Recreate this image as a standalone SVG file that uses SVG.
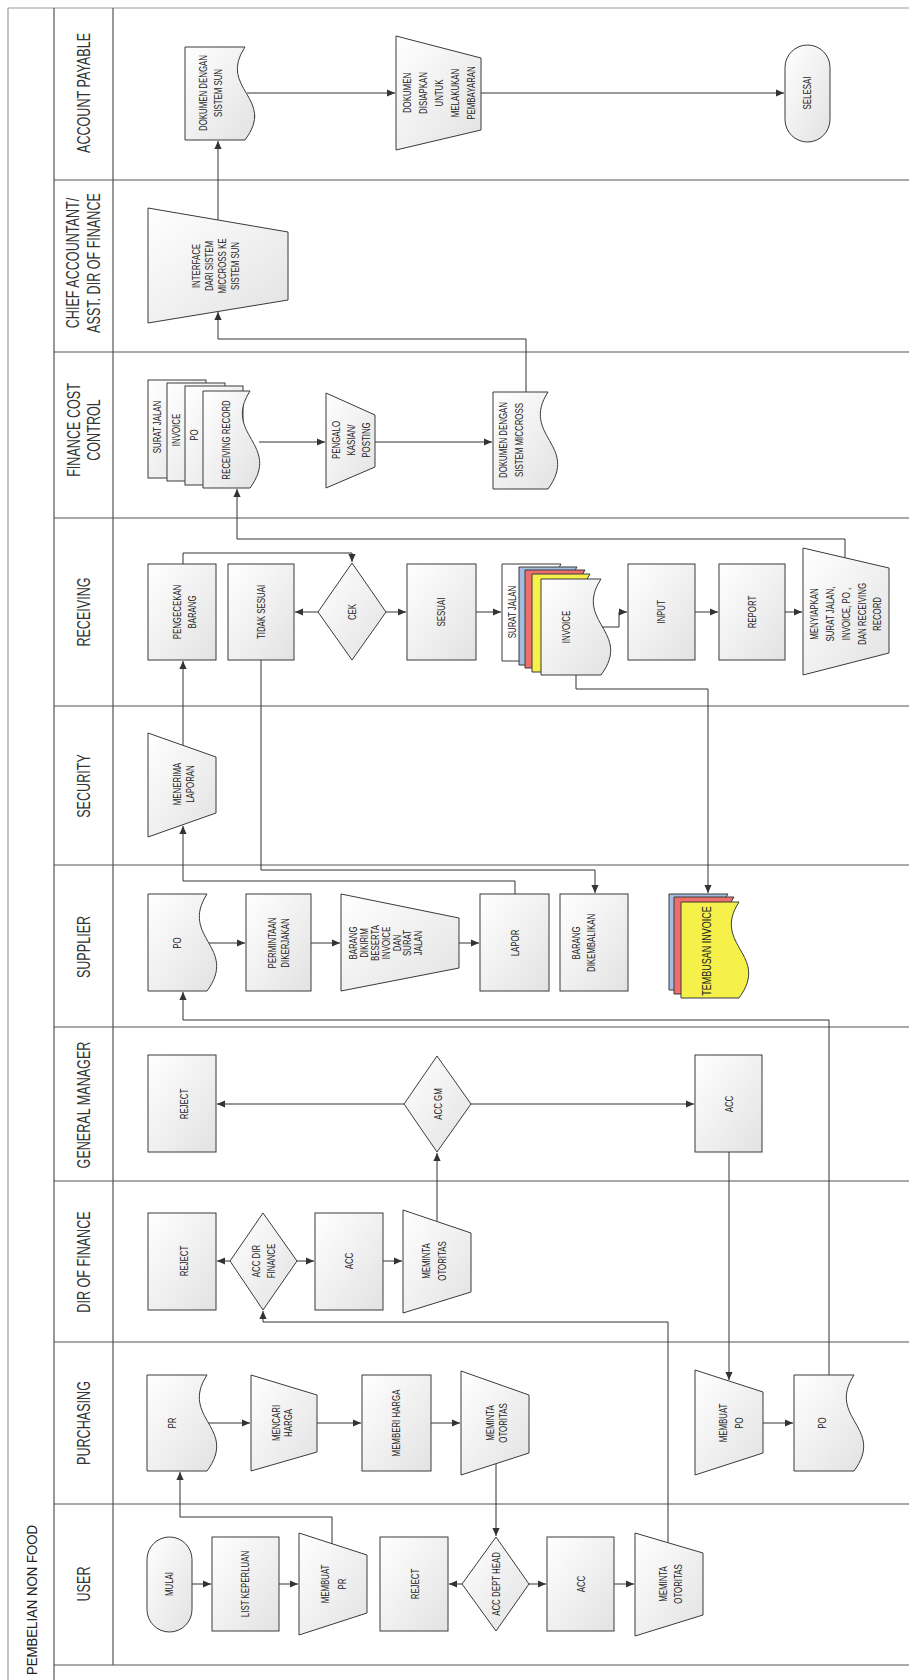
<svg xmlns="http://www.w3.org/2000/svg" width="909" height="1680" viewBox="0 0 909 1680">
<defs>
<linearGradient id="g" x1="0" y1="0" x2="1" y2="1">
<stop offset="0" stop-color="#ffffff"/>
<stop offset="1" stop-color="#e2e2e2"/>
</linearGradient>
<marker id="ah" viewBox="0 0 10 10" refX="10" refY="5" markerWidth="8" markerHeight="8" markerUnits="userSpaceOnUse" orient="auto">
<path d="M0,0.5 L10,5 L0,9.5 z" fill="#333"/>
</marker>
</defs>
<style>
.s{fill:url(#g);stroke:#3a3a3a;stroke-width:1}
.w{fill:#ffffff;stroke:#3a3a3a;stroke-width:1}
.bl{fill:#a3bde0;stroke:#3a3a3a;stroke-width:1}
.rd{fill:#ee6e6c;stroke:#3a3a3a;stroke-width:1}
.ye{fill:#f5f04a;stroke:#3a3a3a;stroke-width:1}
.ln{stroke:#555;stroke-width:1.2;fill:none}
.lt{stroke:#9a9a9a;stroke-width:1.2;fill:none}
.c{stroke:#333;stroke-width:1;fill:none;marker-end:url(#ah)}
text{font-family:"Liberation Sans",Arial,sans-serif;fill:#222}
.bx{font-size:10.5px;text-anchor:middle}
.hd{font-size:18px;text-anchor:middle;fill:#333}
.tt{font-size:15px;text-anchor:middle;fill:#222}
</style>
<rect x="0" y="0" width="909" height="1680" fill="#ffffff"/>

<g id="lanes">
<line class="lt" x1="8" y1="8" x2="909" y2="8"/>
<line class="lt" x1="8" y1="8" x2="8" y2="1680"/>
<line class="ln" x1="54" y1="8" x2="54" y2="1680"/>
<line class="ln" x1="113" y1="8" x2="113" y2="1665"/>
<line class="ln" x1="54" y1="180" x2="909" y2="180"/>
<line class="ln" x1="54" y1="352" x2="909" y2="352"/>
<line class="ln" x1="54" y1="518" x2="909" y2="518"/>
<line class="ln" x1="54" y1="706" x2="909" y2="706"/>
<line class="ln" x1="54" y1="865" x2="909" y2="865"/>
<line class="ln" x1="54" y1="1027" x2="909" y2="1027"/>
<line class="ln" x1="54" y1="1181" x2="909" y2="1181"/>
<line class="ln" x1="54" y1="1342" x2="909" y2="1342"/>
<line class="ln" x1="54" y1="1504" x2="909" y2="1504"/>
<line class="ln" x1="54" y1="1665" x2="909" y2="1665"/>
<text class="tt" transform="translate(37 1600) rotate(-90) scale(0.88 1)">PEMBELIAN NON FOOD</text>
<text class="hd" transform="translate(90 93) rotate(-90) scale(0.7 1)">ACCOUNT PAYABLE</text>
<text class="hd" transform="translate(79 263) rotate(-90) scale(0.7 1)">CHIEF ACCOUNTANT/</text>
<text class="hd" transform="translate(100 263) rotate(-90) scale(0.7 1)">ASST. DIR OF FINANCE</text>
<text class="hd" transform="translate(79.5 430) rotate(-90) scale(0.7 1)">FINANCE COST</text>
<text class="hd" transform="translate(100 430) rotate(-90) scale(0.7 1)">CONTROL</text>
<text class="hd" transform="translate(90 612) rotate(-90) scale(0.7 1)">RECEIVING</text>
<text class="hd" transform="translate(90 786) rotate(-90) scale(0.7 1)">SECURITY</text>
<text class="hd" transform="translate(90 947) rotate(-90) scale(0.7 1)">SUPPLIER</text>
<text class="hd" transform="translate(90 1105) rotate(-90) scale(0.7 1)">GENERAL MANAGER</text>
<text class="hd" transform="translate(90 1262) rotate(-90) scale(0.7 1)">DIR OF FINANCE</text>
<text class="hd" transform="translate(90 1423) rotate(-90) scale(0.7 1)">PURCHASING</text>
<text class="hd" transform="translate(90 1584) rotate(-90) scale(0.7 1)">USER</text>
</g>

<g id="connectors">
<path class="c" d="M218 220 V141"/>
<path class="c" d="M247 93 H395"/>
<path class="c" d="M481 93 H784"/>
<path class="c" d="M526 392 V339 H218 V312"/>
<path class="c" d="M259 442 H325"/>
<path class="c" d="M375 442 H492"/>
<path class="c" d="M845 558 V539 H237 V489"/>
<path class="c" d="M183 564 V553 H352 V562"/>
<path class="c" d="M318 612 H295"/>
<path class="c" d="M386 612 H406"/>
<path class="c" d="M476 612 H501"/>
<path class="c" d="M601 627 H619 V612 H627"/>
<path class="c" d="M695 612 H718"/>
<path class="c" d="M785 612 H802"/>
<path class="c" d="M183 745 V661"/>
<path class="c" d="M261 660 V870 H595 V893"/>
<path class="c" d="M576 675 V689 H708 V893"/>
<path class="c" d="M515 894 V881 H183 V826"/>
<path class="c" d="M207 943 H245"/>
<path class="c" d="M311 943 H340"/>
<path class="c" d="M459 943 H479"/>
<path class="c" d="M829 1375 V1020 H183 V992"/>
<path class="c" d="M404 1104 H217"/>
<path class="c" d="M471 1104 H694"/>
<path class="c" d="M729 1152 V1380"/>
<path class="c" d="M437 1221 V1153"/>
<path class="c" d="M230 1261 H217"/>
<path class="c" d="M297 1261 H314"/>
<path class="c" d="M383 1261 H402"/>
<path class="c" d="M668 1543 V1322 H263 V1311"/>
<path class="c" d="M207 1423 H250"/>
<path class="c" d="M317 1423 H361"/>
<path class="c" d="M431 1423 H460"/>
<path class="c" d="M496 1464 V1536"/>
<path class="c" d="M763 1423 H793"/>
<path class="c" d="M332 1544 V1517 H180 V1472"/>
<path class="c" d="M192 1584 H211"/>
<path class="c" d="M279 1584 H298"/>
<path class="c" d="M462 1584 H449"/>
<path class="c" d="M529 1584 H546"/>
<path class="c" d="M614 1584 H634"/>
</g>

<!-- ACCOUNT PAYABLE -->
<g id="dok-sun">
<path class="s" d="M185 47 H245 C217 88.85 277 98.15 245 140 H185 Z"/>
<g transform="translate(210.5 93) rotate(-90) scale(0.75 1)"><text class="bx" y="-3.7">DOKUMEN DENGAN</text><text class="bx" y="11.3">SISTEM SUN</text></g>
</g>
<g id="dok-disiapkan">
<polygon class="s" points="396,36 481,58 481,130 396,150"/>
<g transform="translate(439 93) rotate(-90) scale(0.75 1)"><text class="bx" y="-28.2">DOKUMEN</text><text class="bx" y="-12.2">DISIAPKAN</text><text class="bx" y="3.8">UNTUK</text><text class="bx" y="19.8">MELAKUKAN</text><text class="bx" y="35.8">PEMBAYARAN</text></g>
</g>
<g id="selesai">
<rect class="s" x="785" y="45" width="45" height="97" rx="22.5" ry="22.5"/>
<g transform="translate(807 93) rotate(-90) scale(0.75 1)"><text class="bx" y="3.8">SELESAI</text></g>
</g>

<!-- CHIEF ACCOUNTANT -->
<g id="interface">
<polygon class="s" points="148,208 288,232 288,300 148,323"/>
<g transform="translate(216 266) rotate(-90) scale(0.75 1)"><text class="bx" y="-15.7">INTERFACE</text><text class="bx" y="-2.7">DARI SISTEM</text><text class="bx" y="10.3">MICCROSS KE</text><text class="bx" y="23.3">SISTEM SUN</text></g>
</g>

<!-- FINANCE COST CONTROL -->
<g id="fcc-docs">
<rect class="s" x="148" y="380" width="58" height="98"/>
<rect class="s" x="167" y="383" width="58" height="98"/>
<rect class="s" x="185" y="386" width="58" height="99"/>
<path class="s" d="M203 391 H250 C222 434.65 282 444.35 250 488 H203 Z"/>
<g transform="translate(157 427) rotate(-90) scale(0.75 1)"><text class="bx" y="3.8">SURAT JALAN</text></g>
<g transform="translate(176 430) rotate(-90) scale(0.75 1)"><text class="bx" y="3.8">INVOICE</text></g>
<g transform="translate(194 435) rotate(-90) scale(0.75 1)"><text class="bx" y="3.8">PO</text></g>
<g transform="translate(226 440) rotate(-90) scale(0.75 1)"><text class="bx" y="3.8">RECEIVING RECORD</text></g>
</g>
<g id="pengalokasian">
<polygon class="s" points="326,393 375,415 375,467 326,488"/>
<g transform="translate(351 440) rotate(-90) scale(0.75 1)"><text class="bx" y="-11.2">PENGALO</text><text class="bx" y="3.8">KASIAN/</text><text class="bx" y="18.8">POSTING</text></g>
</g>
<g id="dok-miccross">
<path class="s" d="M493 392 H548 C520 435.65 580 445.35 548 489 H493 Z"/>
<g transform="translate(511 440) rotate(-90) scale(0.75 1)"><text class="bx" y="-4.2">DOKUMEN DENGAN</text><text class="bx" y="11.8">SISTEM MICCROSS</text></g>
</g>

<!-- RECEIVING -->
<g id="pengecekan">
<rect class="s" x="148" y="564" width="68" height="96"/>
<g transform="translate(184.5 612) rotate(-90) scale(0.75 1)"><text class="bx" y="-3.7">PENGECEKAN</text><text class="bx" y="11.3">BARANG</text></g>
</g>
<g id="tidak-sesuai">
<rect class="s" x="228" y="564" width="66" height="96"/>
<g transform="translate(261 612) rotate(-90) scale(0.75 1)"><text class="bx" y="3.8">TIDAK SESUAI</text></g>
</g>
<g id="cek">
<polygon class="s" points="352,563 386,612 352,660 318,612"/>
<g transform="translate(352 612) rotate(-90) scale(0.75 1)"><text class="bx" y="3.8">CEK</text></g>
</g>
<g id="sesuai">
<rect class="s" x="407" y="564" width="69" height="96"/>
<g transform="translate(441 612) rotate(-90) scale(0.75 1)"><text class="bx" y="3.8">SESUAI</text></g>
</g>
<g id="recv-docs">
<path class="w" d="M502 564 H561 C533 607.65 593 617.35 561 661 H502 Z"/>
<path class="bl" d="M519 567 H577 C549 611.1 609 620.9 577 665 H519 Z"/>
<path class="rd" d="M525 570 H585 C557 614.1 617 623.9 585 668 H525 Z"/>
<path class="ye" d="M532 574 H590 C562 618.1 622 627.9 590 672 H532 Z"/>
<path class="s" d="M541 579 H601 C573 622.2 633 631.8 601 675 H541 Z"/>
<g transform="translate(512 612) rotate(-90) scale(0.75 1)"><text class="bx" y="3.8">SURAT JALAN</text></g>
<g transform="translate(566 627) rotate(-90) scale(0.75 1)"><text class="bx" y="3.8">INVOICE</text></g>
</g>
<g id="input">
<rect class="s" x="628" y="564" width="67" height="96"/>
<g transform="translate(661 612) rotate(-90) scale(0.75 1)"><text class="bx" y="3.8">INPUT</text></g>
</g>
<g id="report">
<rect class="s" x="719" y="564" width="66" height="96"/>
<g transform="translate(752 612) rotate(-90) scale(0.75 1)"><text class="bx" y="3.8">REPORT</text></g>
</g>
<g id="menyiapkan">
<polygon class="s" points="803,548 889,568 889,653 803,675"/>
<g transform="translate(846 614) rotate(-90) scale(0.75 1)"><text class="bx" y="-27.7">MENYIAPKAN</text><text class="bx" y="-11.95">SURAT JALAN,</text><text class="bx" y="3.8">INVOICE, PO ,</text><text class="bx" y="19.55">DAN RECEIVING</text><text class="bx" y="35.3">RECORD</text></g>
</g>

<!-- SECURITY -->
<g id="menerima-laporan">
<polygon class="s" points="148,733 216,757 216,813 148,837"/>
<g transform="translate(183.5 784) rotate(-90) scale(0.75 1)"><text class="bx" y="-2.7">MENERIMA</text><text class="bx" y="10.3">LAPORAN</text></g>
</g>

<!-- SUPPLIER -->
<g id="po-supplier">
<path class="s" d="M148 894 H207 C179 937.65 239 947.35 207 991 H148 Z"/>
<g transform="translate(177 943) rotate(-90) scale(0.75 1)"><text class="bx" y="3.8">PO</text></g>
</g>
<g id="permintaan">
<rect class="s" x="246" y="894" width="65" height="97"/>
<g transform="translate(278.5 943) rotate(-90) scale(0.75 1)"><text class="bx" y="-2.7">PERMINTAAN</text><text class="bx" y="10.3">DIKERJAKAN</text></g>
</g>
<g id="barang-dikirim">
<polygon class="s" points="341,894 459,918 459,968 341,991"/>
<g transform="translate(386 943) rotate(-90) scale(0.75 1)"><text class="bx" y="-28.6">BARANG</text><text class="bx" y="-17.8">DIKIRIM</text><text class="bx" y="-7">BESERTA</text><text class="bx" y="3.8">INVOICE</text><text class="bx" y="14.6">DAN</text><text class="bx" y="25.4">SURAT</text><text class="bx" y="36.2">JALAN</text></g>
</g>
<g id="lapor">
<rect class="s" x="480" y="894" width="69" height="97"/>
<g transform="translate(515 943) rotate(-90) scale(0.75 1)"><text class="bx" y="3.8">LAPOR</text></g>
</g>
<g id="dikembalikan">
<rect class="s" x="560" y="894" width="68" height="97"/>
<g transform="translate(584 943) rotate(-90) scale(0.75 1)"><text class="bx" y="-3.7">BARANG</text><text class="bx" y="11.3">DIKEMBALIKAN</text></g>
</g>
<g id="tembusan-invoice">
<path class="bl" d="M669 894 H728 C700 937.2 760 946.8 728 990 H669 Z"/>
<path class="rd" d="M674 897 H734 C706 940.65 766 950.35 734 994 H674 Z"/>
<path class="ye" d="M681 902 H739 C711 945.2 771 954.8 739 998 H681 Z"/>
<g transform="translate(707 951) rotate(-90) scale(0.75 1)"><text class="bx" style="font-size:12px" y="4.3">TEMBUSAN INVOICE</text></g>
</g>

<!-- GENERAL MANAGER -->
<g id="reject-gm">
<rect class="s" x="148" y="1055" width="68" height="97"/>
<g transform="translate(184 1104) rotate(-90) scale(0.75 1)"><text class="bx" y="3.8">REJECT</text></g>
</g>
<g id="acc-gm">
<polygon class="s" points="437,1056 471,1104 437,1152 404,1104"/>
<g transform="translate(438 1104) rotate(-90) scale(0.75 1)"><text class="bx" y="3.8">ACC GM</text></g>
</g>
<g id="acc-gm-box">
<rect class="s" x="695" y="1055" width="67" height="97"/>
<g transform="translate(729 1104) rotate(-90) scale(0.75 1)"><text class="bx" y="3.8">ACC</text></g>
</g>

<!-- DIR OF FINANCE -->
<g id="reject-dof">
<rect class="s" x="148" y="1213" width="68" height="97"/>
<g transform="translate(184 1261) rotate(-90) scale(0.75 1)"><text class="bx" y="3.8">REJECT</text></g>
</g>
<g id="acc-dir-finance">
<polygon class="s" points="263,1213 297,1261 263,1310 230,1261"/>
<g transform="translate(263.5 1261) rotate(-90) scale(0.75 1)"><text class="bx" y="-3.7">ACC DIR</text><text class="bx" y="11.3">FINANCE</text></g>
</g>
<g id="acc-dof">
<rect class="s" x="315" y="1213" width="68" height="97"/>
<g transform="translate(349 1261) rotate(-90) scale(0.75 1)"><text class="bx" y="3.8">ACC</text></g>
</g>
<g id="meminta-dof">
<polygon class="s" points="403,1210 471,1233 471,1292 403,1313"/>
<g transform="translate(434.5 1261) rotate(-90) scale(0.75 1)"><text class="bx" y="-4.2">MEMINTA</text><text class="bx" y="11.8">OTORITAS</text></g>
</g>

<!-- PURCHASING -->
<g id="pr">
<path class="s" d="M147 1375 H207 C179 1418.2 239 1427.8 207 1471 H147 Z"/>
<g transform="translate(172 1423) rotate(-90) scale(0.75 1)"><text class="bx" y="3.8">PR</text></g>
</g>
<g id="mencari-harga">
<polygon class="s" points="251,1375 317,1395 317,1452 251,1471"/>
<g transform="translate(282 1423) rotate(-90) scale(0.75 1)"><text class="bx" y="-2.2">MENCARI</text><text class="bx" y="9.8">HARGA</text></g>
</g>
<g id="memberi-harga">
<rect class="s" x="362" y="1375" width="69" height="96"/>
<g transform="translate(396.5 1423) rotate(-90) scale(0.75 1)"><text class="bx" y="3.8">MEMBERI HARGA</text></g>
</g>
<g id="meminta-pur">
<polygon class="s" points="461,1371 529,1395 529,1453 461,1475"/>
<g transform="translate(496.5 1423) rotate(-90) scale(0.75 1)"><text class="bx" y="-2.7">MEMINTA</text><text class="bx" y="10.3">OTORITAS</text></g>
</g>
<g id="membuat-po">
<polygon class="s" points="695,1370 763,1392 763,1453 695,1475"/>
<g transform="translate(731 1423) rotate(-90) scale(0.75 1)"><text class="bx" y="-4.2">MEMBUAT</text><text class="bx" y="11.8">PO</text></g>
</g>
<g id="po-purchasing">
<path class="s" d="M794 1375 H854 C826 1418.2 886 1427.8 854 1471 H794 Z"/>
<g transform="translate(822 1423) rotate(-90) scale(0.75 1)"><text class="bx" y="3.8">PO</text></g>
</g>

<!-- USER -->
<g id="mulai">
<rect class="s" x="147" y="1537" width="45" height="95" rx="22.5" ry="22.5"/>
<g transform="translate(169 1584) rotate(-90) scale(0.75 1)"><text class="bx" y="3.8">MULAI</text></g>
</g>
<g id="list-keperluan">
<rect class="s" x="212" y="1537" width="67" height="94"/>
<g transform="translate(245 1584) rotate(-90) scale(0.75 1)"><text class="bx" y="3.8">LIST KEPERLUAN</text></g>
</g>
<g id="membuat-pr">
<polygon class="s" points="299,1533 367,1555 367,1613 299,1635"/>
<g transform="translate(333.5 1584) rotate(-90) scale(0.75 1)"><text class="bx" y="-4.7">MEMBUAT</text><text class="bx" y="12.3">PR</text></g>
</g>
<g id="reject-user">
<rect class="s" x="380" y="1537" width="68" height="94"/>
<g transform="translate(415 1584) rotate(-90) scale(0.75 1)"><text class="bx" y="3.8">REJECT</text></g>
</g>
<g id="acc-dept-head">
<polygon class="s" points="496,1537 529,1584 496,1631 462,1584"/>
<g transform="translate(496 1584) rotate(-90) scale(0.75 1)"><text class="bx" y="3.8">ACC DEPT HEAD</text></g>
</g>
<g id="acc-user">
<rect class="s" x="547" y="1537" width="67" height="94"/>
<g transform="translate(581 1584) rotate(-90) scale(0.75 1)"><text class="bx" y="3.8">ACC</text></g>
</g>
<g id="meminta-user">
<polygon class="s" points="635,1533 703,1553 703,1615 635,1636"/>
<g transform="translate(670.5 1584) rotate(-90) scale(0.75 1)"><text class="bx" y="-3.7">MEMINTA</text><text class="bx" y="11.3">OTORITAS</text></g>
</g>
</svg>
